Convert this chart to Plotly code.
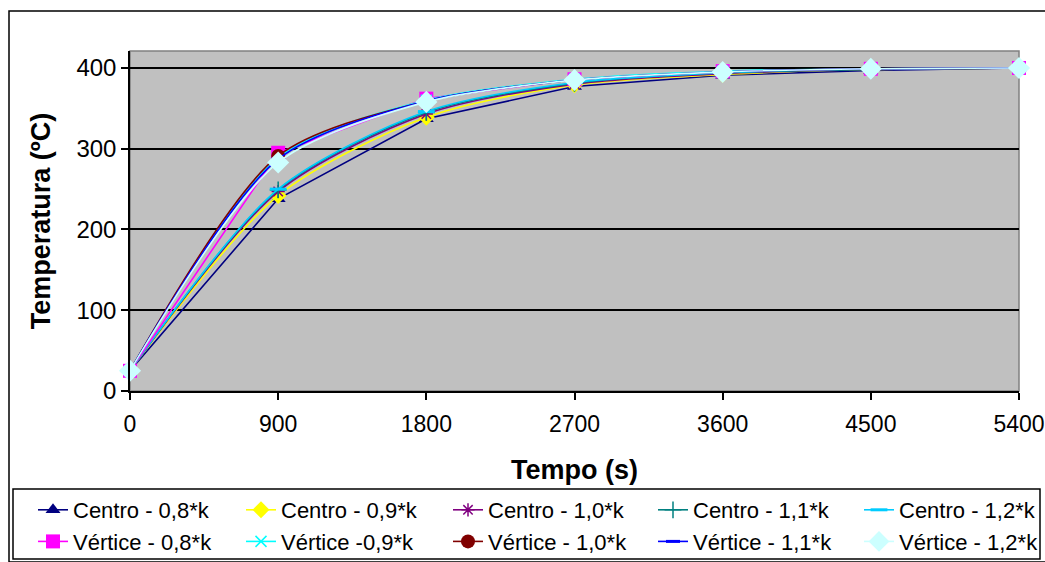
import plotly.graph_objects as go

# -----------------------------------------------------------------------------
# Data
# -----------------------------------------------------------------------------

tempo = [0, 900, 1800, 2700, 3600, 4500, 5400]

centro_08 = [25, 238, 337, 377, 391, 397, 400]
centro_09 = [25, 242, 339, 379, 392, 398, 400]
centro_10 = [25, 247, 343, 380, 393, 398, 400]
centro_11 = [25, 249, 345, 381, 394, 398, 400]
centro_12 = [25, 250, 346, 382, 394, 399, 400]

vertice_08 = [25, 295, 362, 386, 396, 399, 400]
vertice_09 = [25, 289, 360, 386, 396, 399, 400]
vertice_10 = [25, 291, 359, 385, 395, 399, 400]
vertice_11 = [25, 287, 359, 385, 395, 399, 400]
vertice_12 = [25, 283, 358, 385, 395, 399, 400]

x_ticks = [0, 900, 1800, 2700, 3600, 4500, 5400]
y_ticks = [0, 100, 200, 300, 400]

# -----------------------------------------------------------------------------
# Series styles  (legend column = index % 5)
# -----------------------------------------------------------------------------

series = [
    ("Centro - 0,8*k", centro_08, "#000080", "triangle-up", 13, "linear"),
    ("Centro - 0,9*k", centro_09, "#FFFF00", "diamond", 13, "spline"),
    ("Centro - 1,0*k", centro_10, "#800080", "asterisk-open", 11, "spline"),
    ("Centro - 1,1*k", centro_11, "#008080", "cross-thin-open", 12, "spline"),
    ("Centro - 1,2*k", centro_12, "#00CCFF", "line-ew-open", 12, "spline"),
    ("Vértice - 0,8*k", vertice_08, "#FF00FF", "square", 14, "linear"),
    ("Vértice -0,9*k", vertice_09, "#00FFFF", "x-thin-open", 11, "spline"),
    ("Vértice - 1,0*k", vertice_10, "#800000", "circle", 14, "spline"),
    ("Vértice - 1,1*k", vertice_11, "#0000FF", "line-ew-open", 10, "spline"),
    ("Vértice - 1,2*k", vertice_12, "#CCFFFF", "diamond", 17, "spline"),
]

legend_ids = ["legend", "legend2", "legend3", "legend4", "legend5"]

fig = go.Figure()

for i, (name, vals, color, symbol, size, shape) in enumerate(series):
    open_marker = symbol.endswith("-open")
    fig.add_trace(go.Scatter(
        x=tempo, y=vals, name=name,
        mode="lines+markers",
        line=dict(color=color, width=1.6, shape=shape, smoothing=0.8),
        marker=dict(symbol=symbol, size=size, color=color,
                    line=dict(color=color, width=3 if "line-ew" in symbol else (1.5 if open_marker else 0))),
        cliponaxis=False,
        legend=legend_ids[i % 5],
    ))

# -----------------------------------------------------------------------------
# Layout
# -----------------------------------------------------------------------------

L, R, T, B = 130, 26, 51, 171
W, H = 1045, 562
pw, ph = W - L - R, H - T - B


def px(x):
    return (x - L) / pw


def py(y):
    return (H - B - y) / ph


font = "Arial, Liberation Sans, sans-serif"

fig.update_layout(
    width=W, height=H,
    margin=dict(l=L, r=R, t=T, b=B, autoexpand=False),
    paper_bgcolor="white",
    plot_bgcolor="#C0C0C0",
    font=dict(family=font, color="black", size=22),
    showlegend=True,
)

col_left = [33, 241, 448, 653, 859]
for lid, cx in zip(legend_ids, col_left):
    fig.update_layout({lid: dict(
        orientation="v",
        x=px(cx), xanchor="left",
        y=py(489), yanchor="top",
        bgcolor="rgba(0,0,0,0)",
        borderwidth=0,
        font=dict(size=22, family=font),
        tracegroupgap=0,
    )})

fig.update_xaxes(
    range=[0, 5400], tickvals=x_ticks,
    showgrid=False, zeroline=False,
    showline=True, linecolor="black", linewidth=1.5,
    ticks="outside", ticklen=7, tickcolor="black", tickwidth=1.5,
    tickfont=dict(size=23), ticklabelstandoff=5, ticklabeloverflow="allow",
    title=dict(text="<b>Tempo (s)</b>", font=dict(size=27), standoff=24),
)
fig.update_yaxes(
    range=[0, 421], tickvals=y_ticks,
    showgrid=True, gridcolor="black", gridwidth=1.5,
    zeroline=False,
    showline=True, linecolor="black", linewidth=1.5,
    ticks="outside", ticklen=7, tickcolor="black", tickwidth=1.5,
    tickfont=dict(size=24), ticklabeloverflow="allow",
    title=dict(text="<b>Temperatura (ºC)</b>", font=dict(size=27), standoff=18),
)

# chart border, plot-area border and legend box
fig.add_shape(type="rect", xref="paper", yref="paper",
              x0=px(9), x1=px(1060), y0=py(11), y1=py(562),
              line=dict(color="black", width=1.5), layer="below")
fig.add_shape(type="rect", xref="paper", yref="paper",
              x0=0, x1=1, y0=0, y1=1,
              line=dict(color="#808080", width=1.5), layer="below")
fig.add_shape(type="rect", xref="paper", yref="paper",
              x0=px(13), x1=px(1040), y0=py(489), y1=py(559),
              line=dict(color="black", width=1.5), layer="below")

# page body has a default 8px margin; drop it so the figure sits at (0, 0)
fig.write_html("out.html", config={"displayModeBar": False},
               post_script="document.body.style.margin = '0';")
